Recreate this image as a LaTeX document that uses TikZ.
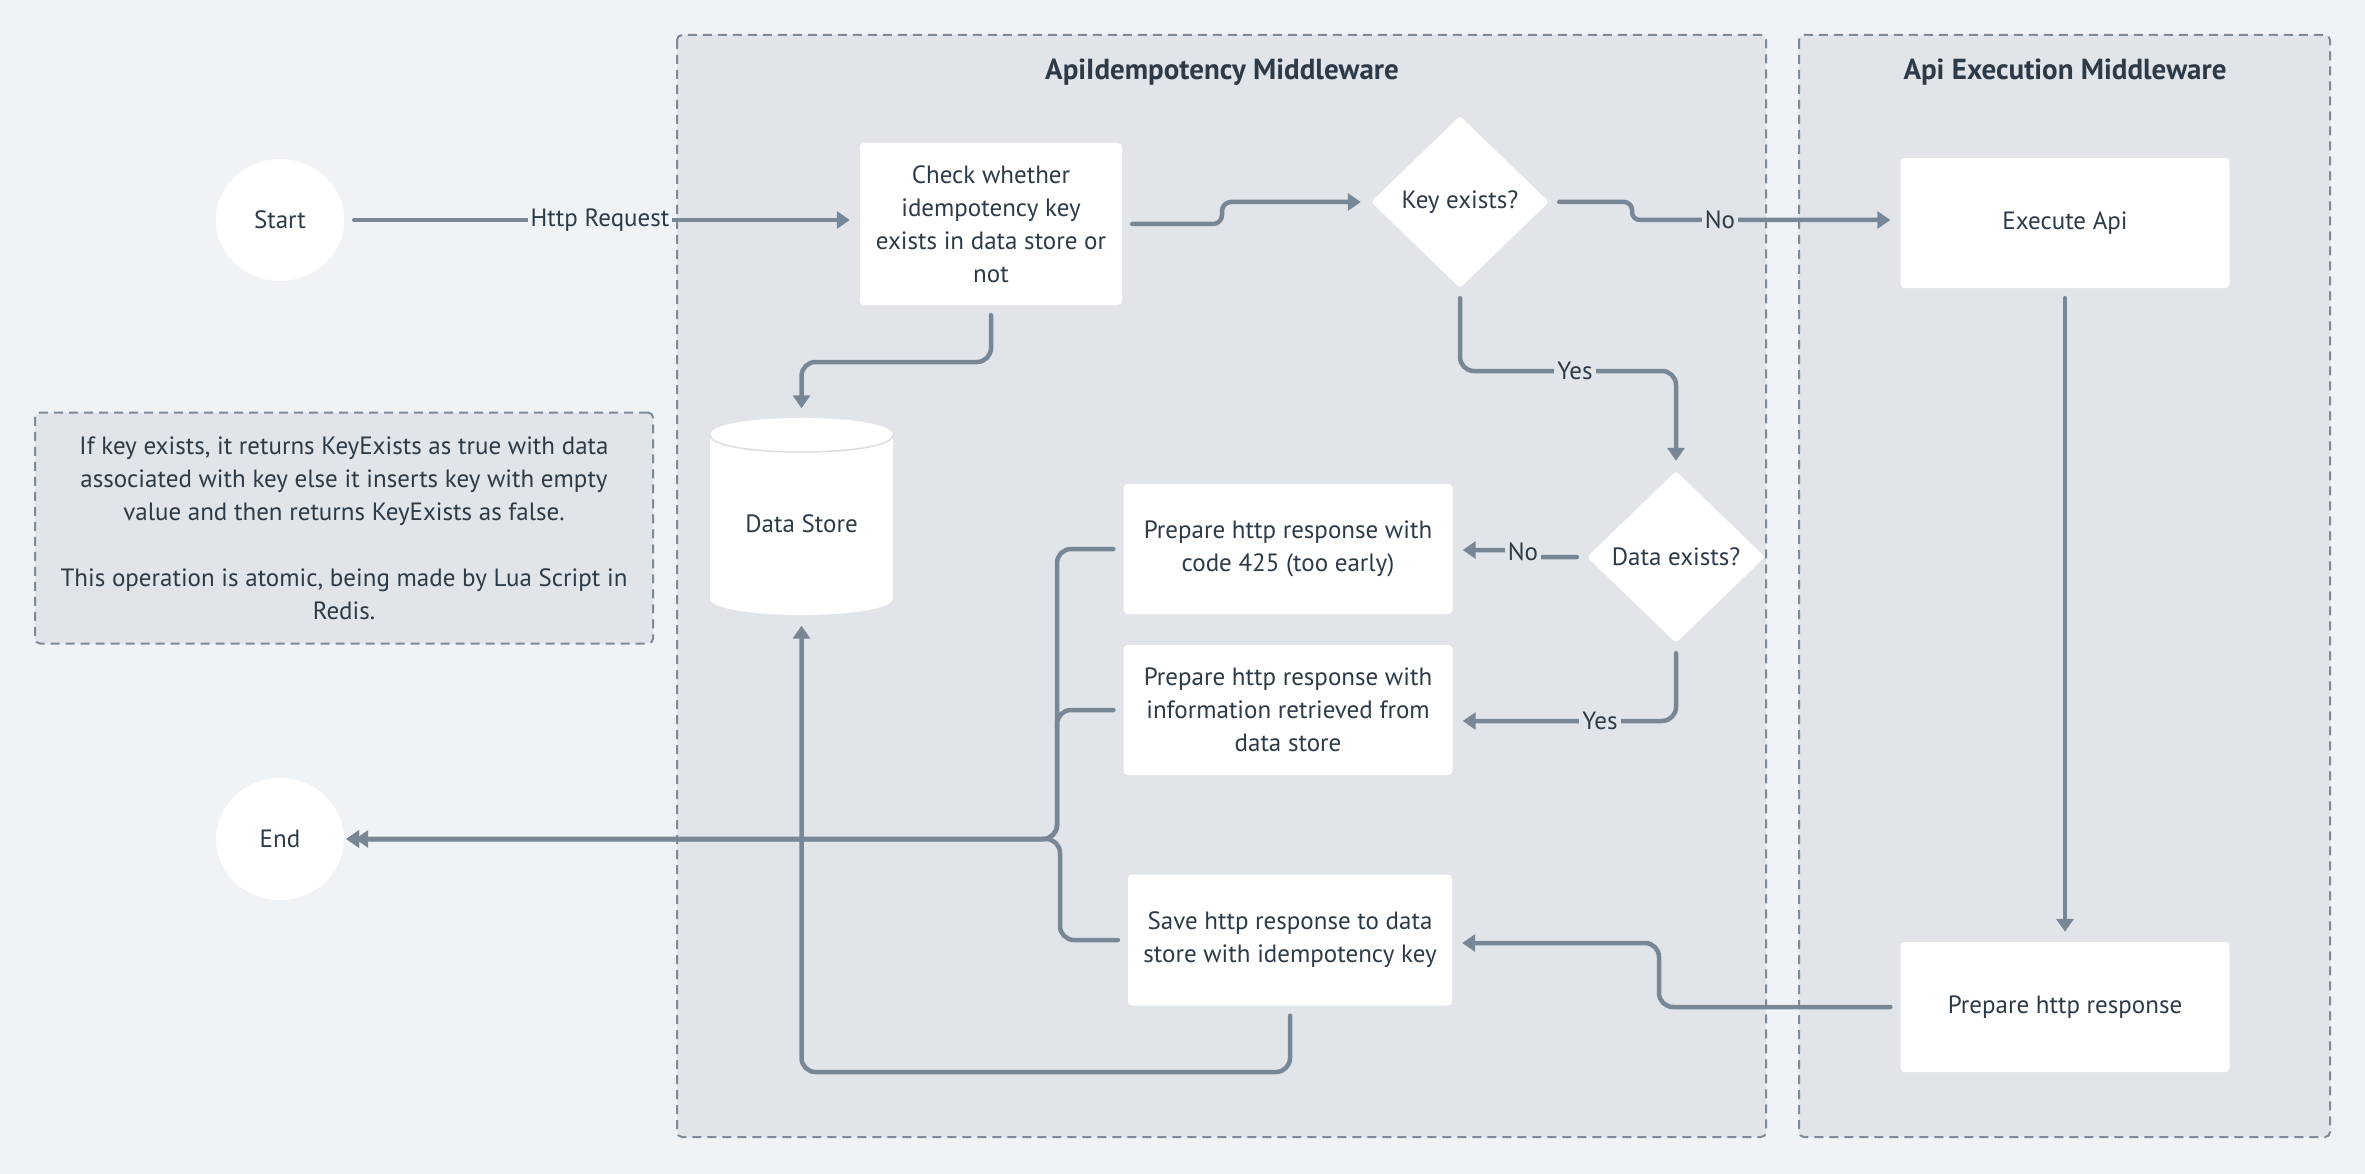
\documentclass[tikz,border=0pt]{standalone}
\usepackage{fontspec}
\setmainfont{PT Sans}
\usetikzlibrary{arrows.meta,shapes.geometric,calc}
\definecolor{pagebg}{HTML}{F0F3F6}
\definecolor{lanebg}{HTML}{E1E5E9}
\definecolor{edgec}{HTML}{778795}
\definecolor{dashc}{HTML}{7D8A97}
\definecolor{txt}{HTML}{2D3A48}
\definecolor{cylline}{HTML}{DADEE3}
\begin{document}
\begin{tikzpicture}[x=1pt,y=-1pt,
  basefont/.style={font=\fontsize{25pt}{33pt}\selectfont, text=txt},
  lane/.style={draw=dashc, line width=2pt, dash pattern=on 9pt off 6pt, fill=lanebg, rounded corners=5pt},
  lanetitle/.style={font=\fontsize{29pt}{33pt}\selectfont\bfseries, text=txt},
  procbox/.style={basefont, fill=white, rounded corners=4pt, align=center, inner sep=0pt},
  decision/.style={basefont, diamond, fill=white, rounded corners=3pt, inner sep=0pt, minimum width=178pt, minimum height=172pt},
  terminal/.style={basefont, ellipse, fill=white, minimum width=128pt, minimum height=122pt, inner sep=0pt},
  conn/.style={draw=edgec, line width=4.5pt, rounded corners=14pt, -{Triangle[length=13pt,width=17pt]}, shorten <=10pt, shorten >=10pt, line cap=round},
  lbl/.style={basefont, inner sep=3pt, fill=lanebg}
]
\fill[pagebg] (0,0) rectangle (2365,1174);
\useasboundingbox (0,0) rectangle (2365,1174);

% lanes
\draw[lane] (677,35) rectangle (1766,1137);
\draw[lane] (1799,35) rectangle (2330,1137);
\node[lanetitle] (t1) at (1222,72) {ApiIdempotency Middleware};
\node[lanetitle] (t2) at (2065,72) {Api Execution Middleware};

% note
\node[basefont, draw=dashc, line width=2pt, dash pattern=on 9pt off 6pt, fill=lanebg, rounded corners=5pt,
  minimum width=618pt, minimum height=231pt, align=center] (note) at (344,528)
  {If key exists, it returns KeyExists as true with data\\associated with key else it inserts key with empty\\value and then returns KeyExists as false.\\[33pt]This operation is atomic, being made by Lua Script in\\Redis.};

% nodes
\node[terminal] (start) at (280,220) {Start};
\node[terminal] (endn) at (280,839) {End};
\node[procbox, minimum width=262pt, minimum height=162pt] (check) at (991,224)
  {Check whether\\idempotency key\\exists in data store or\\not};
\node[decision] (key) at (1460,202) {Key exists?};
\node[procbox, minimum width=329pt, minimum height=130pt] (exec) at (2065,223) {Execute Api};

% data store cylinder
\fill[white] (710,435) -- (710,598) .. controls (710,620.7) and (893,620.7) .. (893,598)
  -- (893,435) .. controls (893,412.3) and (710,412.3) .. (710,435) -- cycle;
\draw[cylline, line width=1.5pt] (710,435) .. controls (710,457.7) and (893,457.7) .. (893,435);
\node[basefont, minimum width=183pt, minimum height=197pt, inner sep=0pt] (ds) at (801.5,517) {};
\node[basefont] (dslabel) at (801.5,524) {Data Store};

\node[decision] (dex) at (1676,557) {Data exists?};
\node[procbox, minimum width=329pt, minimum height=130pt] (p425) at (1288,549)
  {Prepare http response with\\code 425 (too early)};
\node[procbox, minimum width=329pt, minimum height=130pt] (pinfo) at (1288,710)
  {Prepare http response with\\information retrieved from\\data store};
\node[procbox, minimum width=324pt, minimum height=131pt] (save) at (1290,940)
  {Save http response to data\\store with idempotency key};
\node[procbox, minimum width=329pt, minimum height=130pt] (prep) at (2065,1007) {Prepare http response};

% connectors
\draw[conn] (start.east) -- (check.west |- start.east);
\draw[conn, rounded corners=9pt] (check.east) -- (1222,224) -- (1222,202) -- (key.west);
\draw[conn, rounded corners=8pt] (key.east) -- (1632,202) -- (1632,220) -- (exec.west |- 0,220);
\draw[conn] (key.south) -- (1460,371) -- (1676,371) -- (dex.north);
\draw[conn, rounded corners=3pt] (dex.west) -- (1523,557) -- (1523,550) -- (p425.east |- 0,550);
\draw[conn] (dex.south) -- (1676,721) -- (pinfo.east |- 0,721);
\draw[conn] (check.south) -- (991,362) -- (801.5,362) -- (ds.north);
\draw[conn] (exec.south) -- (prep.north);
\draw[conn] (prep.west) -- (1659,1007) -- (1659,943) -- (save.east |- 0,943);
\draw[conn] (save.south) -- (1290,1072) -- (801.5,1072) -- (ds.south);
\draw[conn, shorten >=2pt] (p425.west) -- (1057,549) -- (1057,839) -- (endn.east);
\draw[conn, shorten >=11pt] (pinfo.west) -- (1057,710) -- (1057,839) -- (endn.east);
\draw[conn, shorten >=2pt] (save.west) -- (1060,940) -- (1060,839) -- (endn.east);

% labels
\node[lbl, fill=pagebg] (lhttp) at (600,220) {Http Request};
\node[lbl] (lno1) at (1720,220) {No};
\node[lbl] (lyes1) at (1575,371) {Yes};
\node[lbl] (lno2) at (1523,552) {No};
\node[lbl] (lyes2) at (1600,721) {Yes};
\end{tikzpicture}
\end{document}
